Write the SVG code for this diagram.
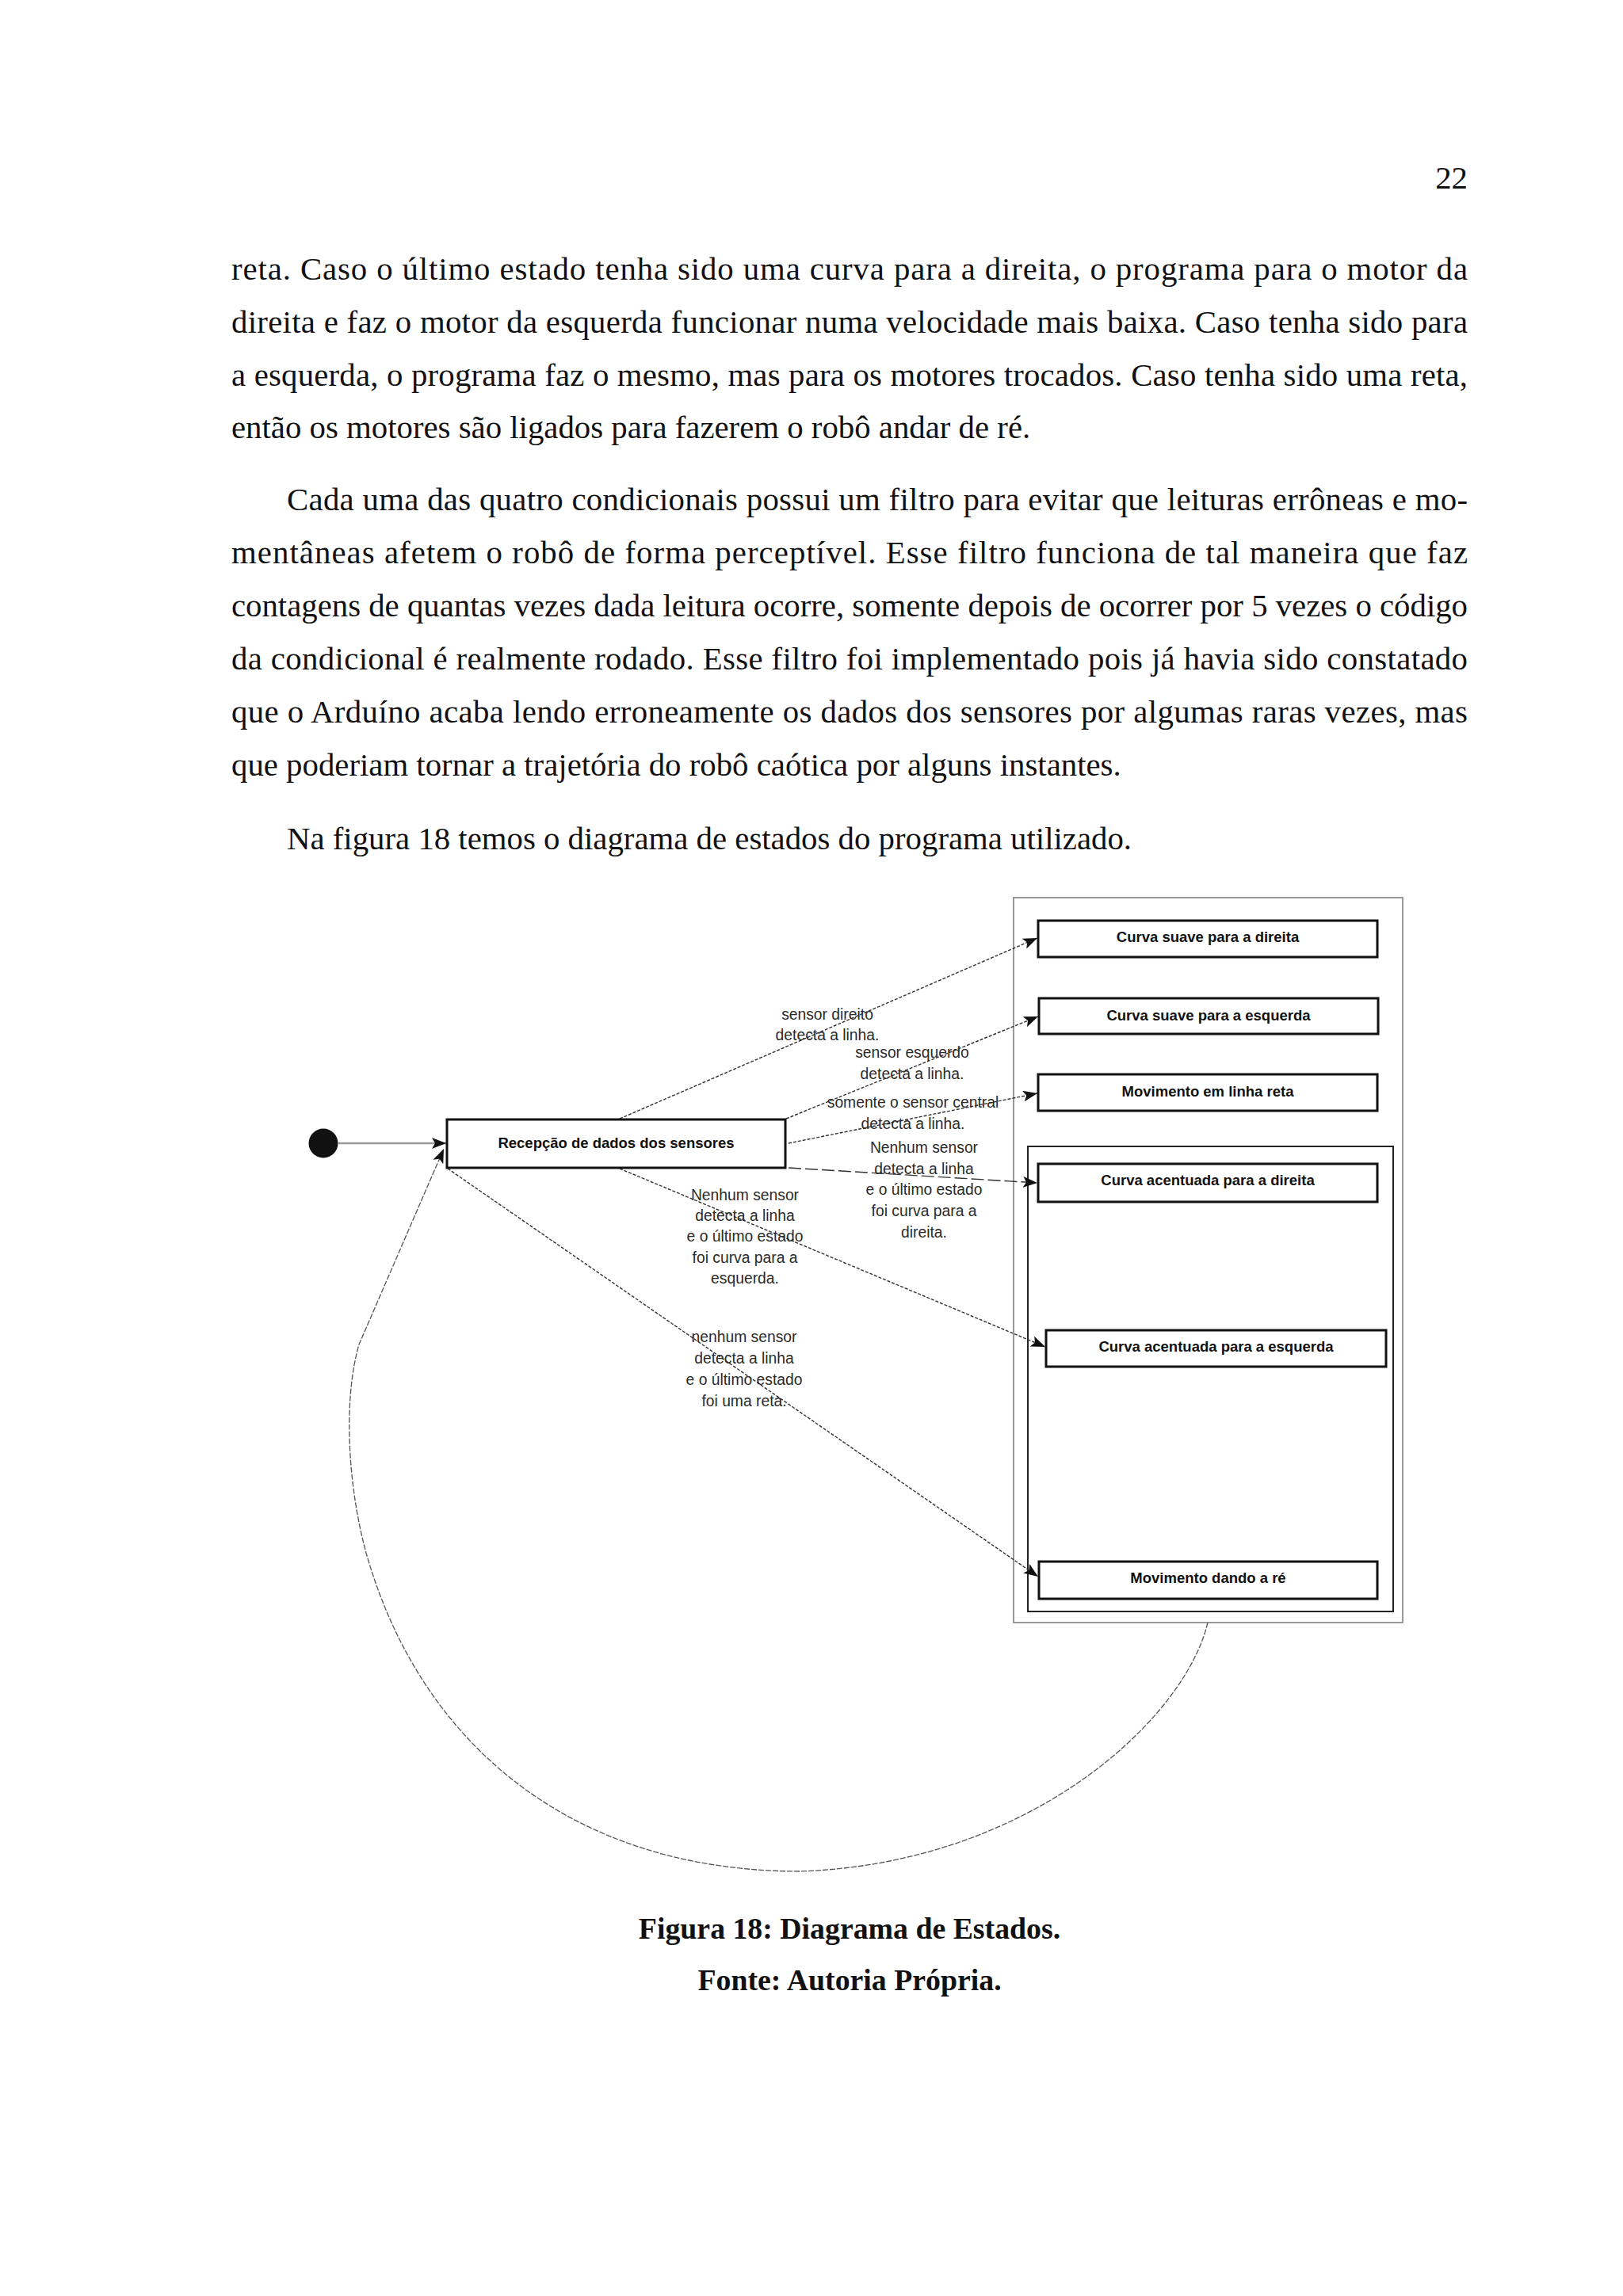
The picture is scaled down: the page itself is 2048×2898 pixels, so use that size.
<svg xmlns="http://www.w3.org/2000/svg" width="2048" height="2898" viewBox="0 0 2048 2898">
<style>
.body{font-family:"Liberation Serif","Times New Roman",serif;font-size:40.8px;fill:#111}
.cap{font-family:"Liberation Serif","Times New Roman",serif;font-size:37.8px;font-weight:bold;fill:#111}
.st{fill:#fff;stroke:#111;stroke-width:3}
.stt{font-family:"Liberation Sans",Arial,sans-serif;font-size:18.5px;font-weight:bold;fill:#111;text-anchor:middle}
.lbl{font-family:"Liberation Sans",Arial,sans-serif;font-size:19.3px;fill:#2a2a2a;text-anchor:middle}
.con{fill:none;stroke:#333;stroke-width:1.4;stroke-dasharray:4 2}
.long{fill:none;stroke:#333;stroke-width:1.4;stroke-dasharray:16 5}
.loop{fill:none;stroke:#555;stroke-width:1.3;stroke-dasharray:7 2}
</style>
<defs>
<marker id="arr" markerUnits="userSpaceOnUse" markerWidth="18" markerHeight="14" viewBox="0 0 18 14" refX="18" refY="7" orient="auto">
<path d="M0,0 L18,7 L0,14 L4,7 z" fill="#111"/>
</marker>
</defs>
<rect width="2048" height="2898" fill="#fff"/>

<g id="page-text">
<text class="body" x="1852" y="238" text-anchor="end">22</text>
<text class="body" x="292" y="353" textLength="1560" lengthAdjust="spacing">reta.  Caso o último estado tenha sido uma curva para a direita, o programa para o motor da</text>
<text class="body" x="292" y="420" textLength="1560" lengthAdjust="spacing">direita e faz o motor da esquerda funcionar numa velocidade mais baixa. Caso tenha sido para</text>
<text class="body" x="292" y="487" textLength="1560" lengthAdjust="spacing">a esquerda, o programa faz o mesmo, mas para os motores trocados. Caso tenha sido uma reta,</text>
<text class="body" x="292" y="553">então os motores são ligados para fazerem o robô andar de ré.</text>
<text class="body" x="362" y="644" textLength="1490" lengthAdjust="spacing">Cada uma das quatro condicionais possui um filtro para evitar que leituras errôneas e mo-</text>
<text class="body" x="292" y="711" textLength="1560" lengthAdjust="spacing">mentâneas afetem o robô de forma perceptível.  Esse filtro funciona de tal maneira que faz</text>
<text class="body" x="292" y="778" textLength="1560" lengthAdjust="spacing">contagens de quantas vezes dada leitura ocorre, somente depois de ocorrer por 5 vezes o código</text>
<text class="body" x="292" y="845" textLength="1560" lengthAdjust="spacing">da condicional é realmente rodado.  Esse filtro foi implementado pois já havia sido constatado</text>
<text class="body" x="292" y="912" textLength="1560" lengthAdjust="spacing">que o Arduíno acaba lendo erroneamente os dados dos sensores por algumas raras vezes, mas</text>
<text class="body" x="292" y="979">que poderiam tornar a trajetória do robô caótica por alguns instantes.</text>
<text class="body" x="362" y="1072">Na figura 18 temos o diagrama de estados do programa utilizado.</text>
</g>

<g id="container-outer">
<rect x="1279" y="1133" width="491" height="915" fill="none" stroke="#999" stroke-width="2"/>
</g>
<g id="container-inner">
<rect x="1297" y="1447" width="461" height="587" fill="none" stroke="#222" stroke-width="2"/>
</g>

<g id="connectors">
<line x1="427" y1="1443" x2="563" y2="1443" stroke="#999" stroke-width="2.5" marker-end="url(#arr)"/>
<path class="loop" d="M1524 2048 C1495 2170,1300 2352,1010 2362 C720 2362,530 2200,462 1960 C440 1880,432 1770,453 1697 L560 1450" marker-end="url(#arr)"/>
<line class="con" x1="782" y1="1412" x2="1309" y2="1184" marker-end="url(#arr)"/>
<line class="con" x1="992" y1="1412" x2="1310" y2="1283" marker-end="url(#arr)"/>
<line class="con" x1="995" y1="1443" x2="1309" y2="1380" marker-end="url(#arr)"/>
<line class="long" x1="995" y1="1474" x2="1309" y2="1493" marker-end="url(#arr)"/>
<line class="con" x1="782" y1="1475" x2="1319" y2="1700" marker-end="url(#arr)"/>
<line class="con" x1="565" y1="1475" x2="1310" y2="1990" marker-end="url(#arr)"/>
</g>

<g id="labels">
<text class="lbl" x="1044" y="1287">sensor direito</text>
<text class="lbl" x="1044" y="1313">detecta a linha.</text>
<text class="lbl" x="1151" y="1335">sensor esquerdo</text>
<text class="lbl" x="1151" y="1362">detecta a linha.</text>
<text class="lbl" x="1152" y="1398">somente o sensor central</text>
<text class="lbl" x="1152" y="1425">detecta a linha.</text>
<text class="lbl" x="1166" y="1455">Nenhum sensor</text>
<text class="lbl" x="1166" y="1482">detecta a linha</text>
<text class="lbl" x="1166" y="1508">e o último estado</text>
<text class="lbl" x="1166" y="1535">foi curva para a</text>
<text class="lbl" x="1166" y="1562">direita.</text>
<text class="lbl" x="940" y="1515">Nenhum sensor</text>
<text class="lbl" x="940" y="1541">detecta a linha</text>
<text class="lbl" x="940" y="1567">e o último estado</text>
<text class="lbl" x="940" y="1594">foi curva para a</text>
<text class="lbl" x="940" y="1620">esquerda.</text>
<text class="lbl" x="939" y="1694">nenhum sensor</text>
<text class="lbl" x="939" y="1721">detecta a linha</text>
<text class="lbl" x="939" y="1748">e o último estado</text>
<text class="lbl" x="939" y="1775">foi uma reta.</text>
</g>

<g id="initial">
<circle cx="408" cy="1443" r="18.5" fill="#111"/>
</g>
<g id="recepcao">
<rect class="st" x="564" y="1413" width="427" height="61"/>
<text class="stt" x="777.5" y="1449">Recepção de dados dos sensores</text>
</g>
<g id="curva-suave-direita">
<rect class="st" x="1310" y="1162" width="428" height="46"/>
<text class="stt" x="1524" y="1189">Curva suave para a direita</text>
</g>
<g id="curva-suave-esquerda">
<rect class="st" x="1311" y="1260" width="428" height="45"/>
<text class="stt" x="1525" y="1288">Curva suave para a esquerda</text>
</g>
<g id="linha-reta">
<rect class="st" x="1310" y="1356" width="428" height="46"/>
<text class="stt" x="1524" y="1384">Movimento em linha reta</text>
</g>
<g id="curva-acentuada-direita">
<rect class="st" x="1310" y="1469" width="428" height="48"/>
<text class="stt" x="1524" y="1496">Curva acentuada para a direita</text>
</g>
<g id="curva-acentuada-esquerda">
<rect class="st" x="1320" y="1679" width="429" height="46"/>
<text class="stt" x="1534.5" y="1706">Curva acentuada para a esquerda</text>
</g>
<g id="re">
<rect class="st" x="1311" y="1971" width="427" height="47"/>
<text class="stt" x="1524.5" y="1998">Movimento dando a ré</text>
</g>

<g id="caption">
<text class="cap" x="1072" y="2447" text-anchor="middle">Figura 18: Diagrama de Estados.</text>
<text class="cap" x="1072" y="2512" text-anchor="middle">Fonte: Autoria Própria.</text>
</g>
</svg>
